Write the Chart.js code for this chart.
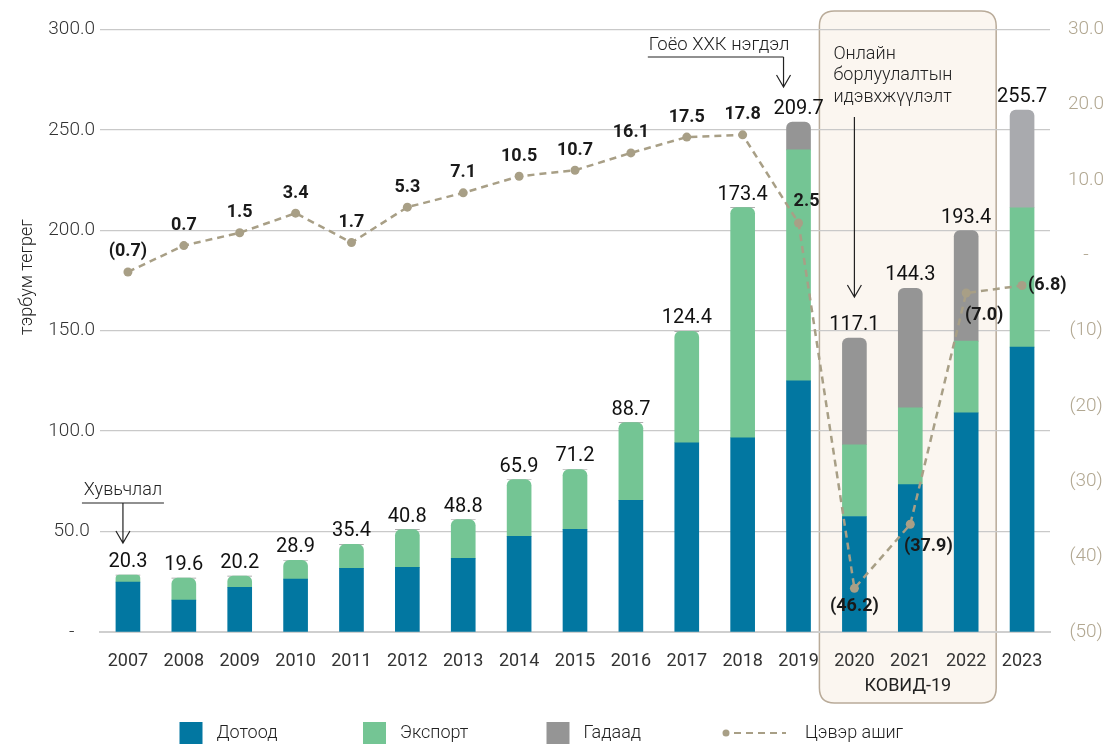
<!DOCTYPE html>
<html>
<head>
<meta charset="utf-8">
<script src="https://cdn.jsdelivr.net/npm/chart.js@4.4.1/dist/chart.umd.min.js"></script>
<style>
  html, body { margin: 0; padding: 0; background: #ffffff; }
  #wrap { position: relative; width: 1109px; height: 744px; }
</style>
</head>
<body>
<div id="wrap"><canvas id="c"></canvas></div>
<script>
// ---- data ----
const categories = ['2007','2008','2009','2010','2011','2012','2013','2014','2015','2016','2017','2018','2019','2020','2021','2022','2023'];
const domestic  = [24.8, 15.9, 22.3, 26.3, 31.7, 32.2, 36.7, 47.6, 51.1, 65.5, 94.2, 96.7, 125.0, 57.5, 73.4, 109.1, 141.8];
const exportVal = [3.5, 10.9, 5.5, 9.4, 11.9, 18.8, 19.3, 28.3, 29.8, 38.7, 55.5, 114.6, 115.0, 35.7, 38.2, 35.7, 69.4];
const foreign   = [0, 0, 0, 0, 0, 0, 0, 0, 0, 0, 0, 0, 13.9, 53.1, 59.5, 55.0, 48.6];
const netProfit = [-2.2, 1.3, 3.0, 5.6, 1.7, 6.4, 8.3, 10.5, 11.3, 13.6, 15.7, 16.0, 4.3, -44.2, -35.7, -5.0, -4.0];
const totalLabels  = ['20.3','19.6','20.2','28.9','35.4','40.8','48.8','65.9','71.2','88.7','124.4','173.4','209.7','117.1','144.3','193.4','255.7'];
const profitLabels = ['(0.7)','0.7','1.5','3.4','1.7','5.3','7.1','10.5','10.7','16.1','17.5','17.8','2.5','(46.2)','(37.9)','(7.0)','(6.8)'];
const leftAxis  = { min: 0, max: 300, step: 50 };
const rightAxis = { min: -50, max: 30, step: 10 };
const seriesNames = ['Дотоод', 'Экспорт', 'Гадаад', 'Цэвэр ашиг'];
const axisTitle = 'тэрбум тегрег';

// ---- styles ----
const C_BLUE = '#0277a1', C_GREEN = '#74c594', C_GRAY = '#959595', C_GRAY2 = '#a9aaae', C_LINE = '#a89f86';
const grayColors = categories.map((c, i) => i === categories.length - 1 ? C_GRAY2 : C_GRAY);
const profitPlacement = ['a','a','a','a','a','a','a','a','a','a','a','a','ar','b','br','br','r'];
const FONT = 'Roboto, "Noto Sans", sans-serif';

const stacks = [domestic, exportVal, foreign];
function topRadius(ctx) {
  const ds = ctx.datasetIndex, i = ctx.dataIndex;
  let top = -1;
  for (let k = 0; k < stacks.length; k++) if (stacks[k][i] > 0) top = k;
  return ds === top ? { topLeft: 6, topRight: 6, bottomLeft: 0, bottomRight: 0 } : 0;
}

function arrowDown(ctx, x, y1, y2) {
  ctx.beginPath();
  ctx.moveTo(x, y1); ctx.lineTo(x, y2);
  ctx.moveTo(x - 7, y2 - 12); ctx.lineTo(x, y2); ctx.lineTo(x + 7, y2 - 12);
  ctx.stroke();
}
function roundRect(ctx, x, y, w, h, r) {
  ctx.beginPath();
  ctx.moveTo(x + r, y);
  ctx.lineTo(x + w - r, y); ctx.quadraticCurveTo(x + w, y, x + w, y + r);
  ctx.lineTo(x + w, y + h - r); ctx.quadraticCurveTo(x + w, y + h, x + w - r, y + h);
  ctx.lineTo(x + r, y + h); ctx.quadraticCurveTo(x, y + h, x, y + h - r);
  ctx.lineTo(x, y + r); ctx.quadraticCurveTo(x, y, x + r, y);
  ctx.closePath();
}

const decor = {
  id: 'decor',
  beforeDraw(chart) {
    const ctx = chart.ctx, xs = chart.scales.x;
    const l = xs.getPixelForValue(13) - 35, r = xs.getPixelForValue(15) + 30;
    ctx.save();
    roundRect(ctx, l, 11, r - l, 692, 15);
    ctx.fillStyle = '#fbf6f0';
    ctx.fill();
    ctx.lineWidth = 1.5;
    ctx.strokeStyle = '#b9ab99';
    ctx.stroke();
    ctx.restore();
  },
  afterDraw(chart) {
    const ctx = chart.ctx, xs = chart.scales.x, ys = chart.scales.y;
    ctx.save();
    // total labels above bars
    ctx.font = '400 20px ' + FONT;
    ctx.fillStyle = '#111';
    ctx.textAlign = 'center';
    ctx.textBaseline = 'alphabetic';
    categories.forEach((c, i) => {
      const sum = domestic[i] + exportVal[i] + foreign[i];
      ctx.fillText(totalLabels[i], xs.getPixelForValue(i), ys.getPixelForValue(sum) - 8);
    });
    // profit labels
    const meta = chart.getDatasetMeta(3);
    ctx.font = '700 18px ' + FONT;
    ctx.fillStyle = '#1a1a1a';
    ctx.textBaseline = 'middle';
    meta.data.forEach((pt, i) => {
      const p = profitPlacement[i];
      let dx = 0, dy = -20, al = 'center';
      if (p === 'ar') { dx = 8; dy = -21; }
      else if (p === 'b') { dy = 18; }
      else if (p === 'br') { dx = 18; dy = 22; }
      else if (p === 'r') { dx = 6; dy = 0; al = 'left'; }
      ctx.textAlign = al;
      ctx.fillText(profitLabels[i], pt.x + dx, pt.y + dy);
    });
    // annotations
    ctx.strokeStyle = '#222';
    ctx.lineWidth = 1.2;
    ctx.fillStyle = '#222';
    ctx.font = '300 18px ' + FONT;
    ctx.textBaseline = 'middle';
    // Хувьчлал
    const x07 = xs.getPixelForValue(0) - 5;
    ctx.textAlign = 'center';
    ctx.fillText('Хувьчлал', x07, 490);
    ctx.beginPath(); ctx.moveTo(x07 - 41, 503); ctx.lineTo(x07 + 41, 503); ctx.stroke();
    arrowDown(ctx, x07, 503, 543);
    // Гоёо ХХК нэгдэл
    ctx.font = '300 18.5px ' + FONT;
    const x19 = xs.getPixelForValue(12) - 15;
    ctx.textAlign = 'right';
    ctx.fillText('Гоёо ХХК нэгдэл', x19 + 6, 45);
    const tw = ctx.measureText('Гоёо ХХК нэгдэл').width;
    ctx.beginPath(); ctx.moveTo(x19 + 5 - tw, 57); ctx.lineTo(x19, 57); ctx.stroke();
    arrowDown(ctx, x19, 57, 87);
    // Онлайн борлуулалтын идэвхжүүлэлт
    ctx.font = '300 18px ' + FONT;
    const bl = xs.getPixelForValue(13) - 35, br = xs.getPixelForValue(15) + 30;
    ctx.textAlign = 'left';
    ['Онлайн', 'борлуулалтын', 'идэвхжүүлэлт'].forEach((t, k) => ctx.fillText(t, bl + 14, 54 + k * 21.5));
    arrowDown(ctx, xs.getPixelForValue(13), 117, 297);
    // КОВИД-19
    ctx.font = '400 18px ' + FONT;
    ctx.textAlign = 'center';
    ctx.fillStyle = '#222';
    ctx.fillText('КОВИД-19', (bl + br) / 2, 686);
    // axis title
    ctx.save();
    ctx.translate(27, 277);
    ctx.rotate(-Math.PI / 2);
    ctx.font = '300 18px ' + FONT;
    ctx.fillStyle = '#222';
    ctx.textAlign = 'center';
    ctx.fillText(axisTitle, 0, 0);
    ctx.restore();
    // legend
    const cx = chart.width / 2;
    const x0 = cx - 375, sp = 183.5, ly = 733;
    const cols = [C_BLUE, C_GREEN, C_GRAY];
    ctx.font = '300 18px ' + FONT;
    ctx.textAlign = 'left';
    ctx.fillStyle = '#222';
    for (let k = 0; k < 3; k++) {
      const bx = x0 + k * sp;
      ctx.fillStyle = cols[k];
      ctx.fillRect(bx, ly - 11, 23, 22);
      ctx.fillStyle = '#222';
      ctx.fillText(seriesNames[k], bx + 37, ly);
    }
    const lx = x0 + 3 * sp - 4;
    ctx.fillStyle = C_LINE;
    ctx.beginPath(); ctx.arc(lx, ly, 3.5, 0, Math.PI * 2); ctx.fill();
    ctx.strokeStyle = C_LINE; ctx.lineWidth = 2.2;
    ctx.setLineDash([7, 5]);
    ctx.beginPath(); ctx.moveTo(lx + 8, ly); ctx.lineTo(lx + 60, ly); ctx.stroke();
    ctx.setLineDash([]);
    ctx.fillStyle = '#222';
    ctx.fillText(seriesNames[3], lx + 79, ly);
    ctx.restore();
  }
};

new Chart(document.getElementById('c'), {
  data: {
    labels: categories,
    datasets: [
      { type: 'bar', label: seriesNames[0], data: domestic, backgroundColor: C_BLUE, yAxisID: 'y', stack: 's', order: 2, barThickness: 24, borderRadius: topRadius, borderSkipped: false },
      { type: 'bar', label: seriesNames[1], data: exportVal, backgroundColor: C_GREEN, yAxisID: 'y', stack: 's', order: 2, barThickness: 24, borderRadius: topRadius, borderSkipped: false },
      { type: 'bar', label: seriesNames[2], data: foreign, backgroundColor: grayColors, yAxisID: 'y', stack: 's', order: 2, barThickness: 24, borderRadius: topRadius, borderSkipped: false },
      { type: 'line', label: seriesNames[3], data: netProfit, yAxisID: 'y1', order: 0, borderColor: C_LINE, backgroundColor: C_LINE, borderWidth: 2.5, borderDash: [7, 5], pointRadius: 4.5, pointBackgroundColor: C_LINE, pointBorderWidth: 0, tension: 0, fill: false }
    ]
  },
  options: {
    responsive: true,
    maintainAspectRatio: false,
    animation: false,
    layout: { padding: { top: 27, left: 0, right: 0, bottom: 0 } },
    plugins: { legend: { display: false }, tooltip: { enabled: false } },
    scales: {
      x: {
        stacked: true,
        grid: { display: false, drawTicks: false },
        border: { display: true, color: '#cfcfcf', width: 2 },
        ticks: { color: '#333', font: { family: FONT, size: 18, weight: 400 }, padding: 19, maxRotation: 0, autoSkip: false },
        afterFit(s) { s.height = 112; }
      },
      y: {
        position: 'left',
        stacked: true,
        min: leftAxis.min, max: leftAxis.max,
        grid: { color: '#c9c9c9', lineWidth: 1.3, drawTicks: false },
        border: { display: false },
        ticks: {
          stepSize: leftAxis.step, color: '#333', crossAlign: 'center', padding: 5,
          font: { family: FONT, size: 19, weight: 300 },
          callback: v => v === 0 ? '-' : v.toFixed(1)
        },
        afterFit(s) { s.width = 100; }
      },
      y1: {
        position: 'right',
        min: rightAxis.min, max: rightAxis.max,
        grid: { display: false, drawTicks: false },
        border: { display: false },
        ticks: {
          stepSize: rightAxis.step, color: '#b1a791', crossAlign: 'center', padding: 18,
          font: { family: FONT, size: 19, weight: 300 },
          callback: v => v === 0 ? '-' : (v < 0 ? '(' + Math.abs(v) + ')' : v.toFixed(1))
        },
        afterFit(s) { s.width = 59; }
      }
    }
  },
  plugins: [decor]
});
</script>
</body>
</html>
